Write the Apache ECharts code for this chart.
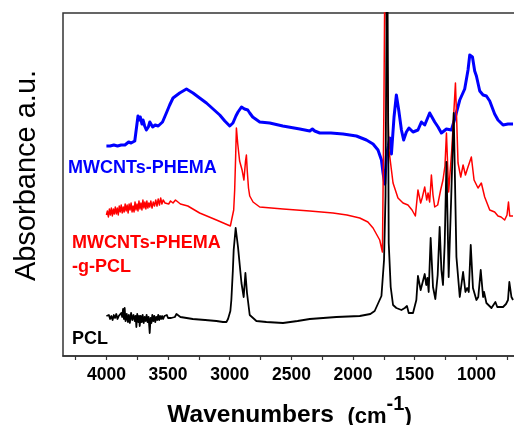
<!DOCTYPE html>
<html>
<head>
<meta charset="utf-8">
<script src="https://cdn.jsdelivr.net/npm/echarts@6/dist/echarts.min.js"></script>
<style>
  html, body { margin: 0; padding: 0; background: #fff; }
  #chart { width: 514px; height: 425px; }
</style>
</head>
<body>
<div id="chart"></div>
<script>
// FTIR spectra, wavenumber (cm-1) vs. offset absorbance (a.u.)
const majorTicks = [4000, 3500, 3000, 2500, 2000, 1500, 1000];
const minorTicks = [4250, 3750, 3250, 2750, 2250, 1750, 1250, 750];

// MWCNTs-PHEMA
const phema = [
  [4000,210],[3985,212],[3970,210],[3955,212],[3940,211],[3925,213],[3910,210],[3895,212],[3880,211],
  [3865,213],[3850,211],[3835,212],[3820,214],[3800,213],[3785,215],[3770,215],[3755,217],[3744,240],
  [3735,236],[3725,239],[3712,232],[3703,236],[3690,230],[3676,226],[3660,229],[3648,234],[3635,233],
  [3625,229],[3616,228],[3605,231],[3595,233],[3580,230],[3568,229],[3545,234],[3514,243],[3487,251],
  [3460,258],[3406,263],[3351,267],[3298,263],[3244,258],[3189,253],[3135,247],[3081,241],[3040,235],
  [3000,230],[2985,230],[2974,233],[2950,240],[2933,244],[2905,249],[2880,247],[2854,246],[2838,243],
  [2814,239],[2757,234],[2676,233],[2570,230],[2432,227],[2351,225],[2330,227],[2311,225],[2270,223],
  [2180,223],[2081,222],[1973,220],[1892,216],[1838,212],[1798,206],[1770,196],[1757,183],[1743,172],
  [1730,200],[1714,210],[1703,218],[1689,202],[1668,239],[1649,261],[1630,246],[1608,226],[1590,216],
  [1568,224],[1547,228],[1514,224],[1474,226],[1446,234],[1419,231],[1379,243],[1338,234],[1311,229],
  [1284,223],[1243,227],[1203,226],[1176,237],[1135,256],[1095,267],[1068,286],[1054,301],[1032,299],
  [1014,285],[1000,280],[973,265],[946,261],[919,260],[892,255],[852,242],[825,236],[784,231],[744,232],
  [703,232]
];

// MWCNTs-PHEMA-g-PCL
const graft = [
  [4000,141],[3992,145],[3984,139],[3976,147],[3968,141],[3960,148],[3952,140],[3944,147],[3936,142],
  [3928,149],[3920,142],[3912,148],[3904,141],[3896,150],[3888,144],[3880,151],[3872,143],[3864,149],
  [3856,144],[3848,152],[3840,145],[3832,151],[3824,143],[3816,152],[3808,146],[3800,153],[3792,144],
  [3784,150],[3776,144],[3768,154],[3760,146],[3752,152],[3744,145],[3736,155],[3728,147],[3720,153],
  [3712,146],[3704,156],[3696,148],[3688,154],[3680,147],[3672,155],[3664,148],[3656,153],[3648,149],
  [3640,155],[3630,148],[3620,154],[3610,150],[3600,156],[3590,150],[3580,157],[3570,151],[3560,158],
  [3550,152],[3540,156],[3525,153],[3510,155],[3495,152],[3480,155],[3460,153],[3440,156],[3430,154],
  [3400,152],[3340,150],[3244,143],[3108,136],[3014,131],[2995,130],[2968,146],[2960,166],[2952,200],
  [2946,228],[2935,212],[2920,195],[2900,186],[2885,176],[2879,175],[2872,195],[2865,201],[2858,185],
  [2848,168],[2838,160],[2811,154],[2757,149],[2568,147],[2351,145],[2163,143],[2050,141],[1946,138],
  [1880,134],[1838,128],[1784,116],[1762,104],[1750,250],[1740,420],[1728,330],[1716,240],[1709,206],
  [1689,186],[1676,173],[1636,158],[1595,153],[1555,151],[1522,146],[1495,140],[1474,166],[1452,153],
  [1440,158],[1419,169],[1403,156],[1392,163],[1379,154],[1365,181],[1352,161],[1338,149],[1314,151],
  [1290,166],[1271,176],[1255,190],[1243,223],[1225,164],[1200,206],[1170,273],[1160,236],[1149,193],
  [1127,179],[1108,191],[1089,181],[1071,188],[1041,199],[1019,176],[987,168],[960,173],[933,159],
  [892,146],[852,144],[825,140],[800,139],[784,137],[771,136],[752,141],[740,154],[730,140],[716,139],
  [703,140]
];

// PCL
const pcl = [
  [4000,40],[3990,38],[3980,41],[3970,37],[3960,40],[3950,36],[3940,41],[3930,38],[3920,42],[3910,37],
  [3900,40],[3890,38],[3880,43],[3872,39],[3865,47],[3858,37],[3852,48],[3845,35],[3835,42],[3826,34],
  [3818,41],[3810,33],[3800,43],[3790,36],[3780,41],[3770,35],[3763,40],[3757,29],[3750,42],[3742,34],
  [3735,40],[3730,30],[3722,40],[3714,34],[3706,41],[3698,33],[3690,39],[3682,35],[3674,41],[3666,34],
  [3658,39],[3649,23],[3642,38],[3635,33],[3628,41],[3620,35],[3612,40],[3604,34],[3596,39],[3588,36],
  [3580,41],[3572,36],[3564,40],[3556,37],[3548,40],[3540,37],[3530,40],[3520,38],[3510,41],[3500,38],
  [3490,40],[3475,38],[3460,40],[3445,39],[3432,42],[3400,39],[3300,37],[3200,36],[3108,35],[3055,34],
  [3027,34],[3014,37],[2995,45],[2987,56],[2975,85],[2968,106],[2952,128],[2946,129],[2933,109],
  [2905,73],[2887,59],[2873,83],[2860,63],[2838,41],[2784,35],[2703,34],[2568,33],[2450,35],[2351,37],
  [2135,39],[1946,40],[1860,42],[1825,45],[1770,60],[1749,96],[1737,160],[1724,440],[1716,250],
  [1711,113],[1695,69],[1676,51],[1649,48],[1608,46],[1581,48],[1563,50],[1549,43],[1514,43],[1487,56],
  [1474,80],[1452,66],[1440,68],[1419,82],[1407,71],[1397,78],[1387,64],[1371,118],[1352,69],[1333,57],
  [1314,81],[1298,129],[1284,86],[1271,71],[1257,113],[1243,194],[1225,79],[1205,156],[1184,243],
  [1162,99],[1135,59],[1108,84],[1089,64],[1075,68],[1062,64],[1046,111],[1028,68],[1000,56],[985,59],
  [965,86],[946,59],[938,64],[919,53],[878,48],[846,54],[831,49],[784,49],[760,52],[744,56],[733,74],
  [716,59],[703,56]
];

const FONT = '"Liberation Sans", Arial, Helvetica, sans-serif';

const chart = echarts.init(document.getElementById('chart'), null, { renderer: 'canvas' });

function spectrum(name, data, color, width) {
  return {
    name: name,
    type: 'line',
    data: data,
    showSymbol: false,
    symbol: 'none',
    clip: true,
    lineStyle: { color: color, width: width, join: 'round' },
    emphasis: { disabled: true }
  };
}

chart.setOption({
  animation: false,
  backgroundColor: '#ffffff',
  grid: {
    left: 63, right: -2, top: 13, bottom: 69,
    outerBoundsMode: 'none',
    containLabel: false,
    show: true, borderColor: '#333', borderWidth: 1.5, backgroundColor: 'transparent'
  },
  xAxis: {
    type: 'value',
    inverse: true,
    min: 679,
    max: 4352,
    axisLine: { show: true, lineStyle: { color: '#333', width: 1.5 } },
    axisTick: {
      show: true, length: 4, inside: false,
      customValues: majorTicks.concat(minorTicks),
      lineStyle: { color: '#333', width: 1.2 }
    },
    axisLabel: {
      customValues: majorTicks,
      formatter: function (v) { return String(v); },
      margin: 10,
      color: '#000',
      fontFamily: FONT,
      fontWeight: 'bold',
      fontSize: 17.5
    },
    splitLine: { show: false },
    name: '{a|Wavenumbers  }{b|(cm}{s|-1}{b|)}',
    nameLocation: 'middle',
    nameGap: 38,
    nameTextStyle: {
      rich: {
        a: { fontFamily: FONT, fontWeight: 'bold', fontSize: 24.5, color: '#000', lineHeight: 34, verticalAlign: 'bottom' },
        b: { fontFamily: FONT, fontWeight: 'bold', fontSize: 22, color: '#000', lineHeight: 32, verticalAlign: 'bottom' },
        s: { fontFamily: FONT, fontWeight: 'bold', fontSize: 20, color: '#000', lineHeight: 18, verticalAlign: 'top' }
      }
    }
  },
  yAxis: {
    type: 'value',
    min: 0,
    max: 343,
    axisLine: { show: false },
    axisTick: { show: false },
    axisLabel: { show: false },
    splitLine: { show: false },
    name: 'Absorbance a.u.',
    nameLocation: 'middle',
    nameGap: 22,
    nameTextStyle: {
      fontFamily: FONT, fontSize: 29, color: '#000',
      padding: [0, 0, 0, 18]
    }
  },
  graphic: [
    { type: 'text', x: 68, y: 168.5, silent: true,
      style: { text: 'MWCNTs-PHEMA', fill: '#0000ff', font: 'bold 18px ' + FONT, verticalAlign: 'middle' } },
    { type: 'text', x: 72, y: 243.5, silent: true,
      style: { text: 'MWCNTs-PHEMA', fill: '#ff0000', font: 'bold 18px ' + FONT, verticalAlign: 'middle' } },
    { type: 'text', x: 72, y: 267, silent: true,
      style: { text: '-g-PCL', fill: '#ff0000', font: 'bold 18px ' + FONT, verticalAlign: 'middle' } },
    { type: 'text', x: 72, y: 339, silent: true,
      style: { text: 'PCL', fill: '#000000', font: 'bold 18px ' + FONT, verticalAlign: 'middle' } }
  ],
  series: [
    spectrum('MWCNTs-PHEMA', phema, '#0000ff', 3),
    spectrum('MWCNTs-PHEMA-g-PCL', graft, '#ff0000', 1.5),
    spectrum('PCL', pcl, '#000000', 1.8)
  ]
});
</script>
</body>
</html>
